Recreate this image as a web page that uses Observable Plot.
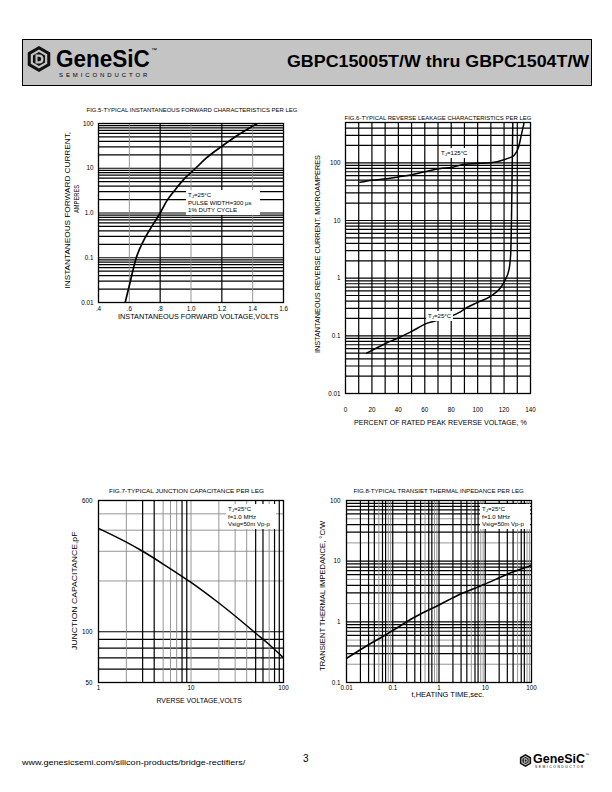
<!DOCTYPE html>
<html><head><meta charset="utf-8">
<script src="https://cdn.jsdelivr.net/npm/d3@7"></script>
<script src="https://cdn.jsdelivr.net/npm/@observablehq/plot@0.6"></script>
<style>
html,body{margin:0;padding:0;background:#fff;}
#page{position:relative;width:612px;height:792px;overflow:hidden;font-family:"Liberation Sans",Arial,Helvetica,sans-serif;color:#000;}
.abs{position:absolute;white-space:nowrap;line-height:1;}
.note{position:absolute;background:#fff;font-size:6.1px;line-height:7.6px;padding:1px 2px;white-space:nowrap;}
.note sub{font-size:4.4px;vertical-align:-1px;line-height:0;}
</style></head><body><div id="page"></div>
<script>
// ---------- DATA ----------
// Fig.5 forward characteristics
const c1Volts   = [0.573,0.6,0.645,0.7,0.75,0.8,0.84,0.9,0.95,1.03,1.1,1.2,1.3,1.43];
const c1Amps    = [0.01,0.024,0.1,0.27,0.53,1.0,1.8,3.4,5.5,10,17,31,54,100];
const c1XTicks  = [0.4,0.6,0.8,1.0,1.2,1.4,1.6];
const c1XLabels = [".4",".6",".8","1.0","1.2","1.4","1.6"];
const c1YTicks  = [0.01,0.1,1,10,100];
const c1YLabels = ["0.01","0.1","1.0","10","100"];
// Fig.6 reverse leakage
const c2Pct125  = [11,20,31,40,50,60,71,81,90,100,110,120,124,127.5,131,133,135];
const c2Cur125  = [46,50,53,57,62,70,79,84,94,97,100,113,122,134,187,300,480];
const c2Pct25   = [16,30,39,49,62,74.5,87,92,100,110,117,121,123.7,125,125.6,126.2,126.6];
const c2Cur25   = [0.05,0.073,0.09,0.116,0.166,0.2,0.26,0.31,0.38,0.49,0.67,0.95,1.4,2.6,10,100,500];
const c2XTicks  = [0,20,40,60,80,100,120,140];
const c2XLabels = ["0","20","40","60","80","100","120","140"];
const c2YTicks  = [0.01,0.1,1,10,100];
const c2YLabels = ["0.01","0.1","1","10","100"];
// Fig.7 junction capacitance
const c3Volts   = [1,2,3,5,10,20,30,50,70,100];
const c3Cap     = [410,340,300,252,196,148,124,98,84,70];
const c3XTicks  = [1,10,100];
const c3XLabels = ["1","10","100"];
const c3YTicks  = [50,100,600];
const c3YLabels = ["50","100","600"];
// Fig.8 transient thermal impedance
const c4Time    = [0.01,0.03,0.065,0.1,0.3,1,3,10,30,100];
const c4Imp     = [0.25,0.42,0.59,0.72,1.2,1.9,2.9,4.2,6.1,8.5];
const c4XTicks  = [0.01,0.1,1,10,100];
const c4XLabels = ["0.01","0.1","1","10","100"];
const c4YTicks  = [0.1,1,10,100];
const c4YLabels = ["0.1","1","10","100"];

// ---------- helpers ----------
const page = document.getElementById("page");
function logGrid(lo, hi, ks){ // grid values k*10^e within (lo,hi)
  const out=[];
  for(let e=-3;e<=3;e++) for(const k of ks){const v=+(k*Math.pow(10,e)).toPrecision(6); if(v>lo*1.0001 && v<hi*0.9999) out.push(v);}
  return out;
}
function fmt(ticks, labels){ return d => { const i = ticks.findIndex(t => Math.abs(t-d) < 1e-9*Math.max(1,Math.abs(t))); return i<0 ? "" : labels[i]; }; }
function txt(s, x, y, o={}){
  const el=document.createElement("div"); el.className="abs";
  el.style.fontSize=(o.size||7)+"px"; el.style.fontWeight=o.weight||"normal";
  if(o.html) el.innerHTML=s; else el.textContent=s;
  if(o.spacing) el.style.letterSpacing=o.spacing+"px";
  page.appendChild(el);
  const w=el.offsetWidth, h=el.offsetHeight;
  const sx=o.width? o.width/w : 1;
  const a=o.anchor||"middle";
  const ox = a==="middle"? w/2 : a==="end"? w : 0;
  el.style.left=(x-ox)+"px"; el.style.top=(y-h/2)+"px";
  el.style.transformOrigin=ox+"px "+(h/2)+"px";
  el.style.transform=(o.rotate?`rotate(${o.rotate}deg) `:"")+`scaleX(${sx})`;
  return el;
}
function note(lines, x, y, w){
  const el=document.createElement("div"); el.className="note";
  el.innerHTML=lines.join("<br>"); el.style.left=x+"px"; el.style.top=y+"px";
  if(w) el.style.width=w+"px";
  page.appendChild(el);
}
const ML=40, MR=10, MT=6, MB=24;
function chart(c){
  const p = Plot.plot({
    width: c.fw+ML+MR, height: c.fh+MT+MB,
    marginLeft: ML, marginRight: MR, marginTop: MT, marginBottom: MB,
    style:{fontFamily:'"Liberation Sans",Arial,sans-serif', fontSize:"6.3px", background:"transparent", color:"#000", overflow:"visible"},
    x: Object.assign({label:null, tickSize:0}, c.x),
    y: Object.assign({label:null, tickSize:0}, c.y),
    marks: c.marks
  });
  p.style.position="absolute";
  p.style.left=(c.fl-ML)+"px"; p.style.top=(c.ft-MT)+"px";
  p.style.maxWidth="none";
  page.appendChild(p);
}
const BLK={stroke:"#000", strokeWidth:1.2};
const GRY={stroke:"#8a8a8a", strokeWidth:0.9};
const FRAME=()=>Plot.frame({stroke:"#000", strokeWidth:1.3});

// ---------- header ----------
const box=document.createElement("div");
Object.assign(box.style,{position:"absolute",left:"22px",top:"39px",width:"568px",height:"45px",background:"#c4c4c4",border:"1.5px solid #000"});
page.appendChild(box);
function logo(x,y,s,fill){
  const hex=(cx,cy,r)=>d3.range(6).map(i=>{const a=Math.PI/180*(60*i-90);return (cx+r*Math.cos(a)).toFixed(2)+","+(cy+r*Math.sin(a)).toFixed(2);}).join(" ");
  const d=document.createElement("div"); d.style.position="absolute"; d.style.left=x+"px"; d.style.top=y+"px";
  d.innerHTML=`<svg width="${26*s}" height="${34*s}" viewBox="0 0 26 34"><polygon points="${hex(13,17,13)}" fill="#111"/><polygon points="${hex(13,17,9.5)}" fill="${fill}"/><polygon points="${hex(13,17,7)}" fill="#111"/><path d="M9.5 12.5 L13 12.5 Q17.5 12.5 17.5 17 Q17.5 21.5 13 21.5 L9.5 21.5 Z" fill="${fill}"/><path d="M11.5 14.8 L13 14.8 Q15.2 14.8 15.2 17 Q15.2 19.2 13 19.2 L11.5 19.2 Z" fill="#111"/></svg>`;
  page.appendChild(d);
}
logo(26,42,1,"#c4c4c4");
txt("GeneSiC", 56, 59, {size:23, weight:"bold", anchor:"start", width:94});
txt("™", 151, 50, {size:6, anchor:"start"});
txt("SEMICONDUCTOR", 59, 75, {size:6.2, anchor:"start", width:91, spacing:3});
txt("GBPC15005T/W thru GBPC1504T/W", 589, 62, {size:16, weight:"bold", anchor:"end", width:302});

// ---------- Fig.5 ----------
chart({fl:98, ft:123, fw:185, fh:179,
  x:{type:"linear", domain:[0.4,1.6], ticks:c1XTicks, tickFormat:fmt(c1XTicks,c1XLabels), tickPadding:4},
  y:{type:"log", domain:[0.01,100], ticks:c1YTicks, tickFormat:fmt(c1YTicks,c1YLabels), tickPadding:5},
  marks:[
    Plot.ruleY(logGrid(0.01,100,[1,2,3,4,5,6,7,8,9]), {y:d=>d, ...BLK}),
    Plot.ruleX([0.6,1.0,1.4], {x:d=>d, ...GRY}),
    Plot.ruleX([0.8,1.2], {x:d=>d, ...BLK}),
    FRAME(),
    Plot.line(c1Volts.map((v,i)=>({v, a:c1Amps[i]})), {x:"v", y:"a", stroke:"#000", strokeWidth:1.7, curve:"monotone-x", clip:true})
  ]});
note(["T<sub>J</sub>=25°C","PULSE WIDTH=300 μs","1% DUTY CYCLE"], 186, 190, 70);
txt("FIG.5-TYPICAL INSTANTANEOUS FORWARD CHARACTERISTICS PER LEG", 192, 110, {size:6, width:211});
txt("INSTANTANEOUS FORWARD VOLTAGE,VOLTS", 198, 317, {size:8, width:161});
txt("INSTANTANEOUS FORWARD CURRENT,", 67.5, 210, {size:8, rotate:-90, width:157});
txt("AMPERES", 76.5, 199, {size:8, rotate:-90, width:28});

// ---------- Fig.6 ----------
chart({fl:345, ft:122, fw:185, fh:271,
  x:{type:"linear", domain:[0,140], ticks:c2XTicks, tickFormat:fmt(c2XTicks,c2XLabels), tickPadding:14},
  y:{type:"log", domain:[0.01,500], ticks:c2YTicks, tickFormat:fmt(c2YTicks,c2YLabels), tickPadding:5},
  marks:[
    Plot.ruleY(logGrid(0.01,500,[1,2,3,4,5,6,7,8,9]), {y:d=>d, ...BLK}),
    Plot.ruleX(d3.range(10,140,10), {x:d=>d, ...BLK}),
    FRAME(),
    Plot.line(c2Pct125.map((v,i)=>({v, a:c2Cur125[i]})), {x:"v", y:"a", stroke:"#000", strokeWidth:1.5, curve:"monotone-x", clip:true}),
    Plot.line(c2Pct25.map((v,i)=>({v, a:c2Cur25[i]})), {x:"v", y:"a", stroke:"#000", strokeWidth:1.5, curve:"monotone-x", clip:true})
  ]});
note(["T<sub>J</sub>=125°C"], 439, 148);
note(["T<sub>J</sub>=25°C"], 426, 311);
txt("FIG.6-TYPICAL REVERSE LEAKAGE CHARACTERISTICS PER LEG", 438, 117.5, {size:6, width:187});
txt("PERCENT OF RATED PEAK REVERSE VOLTAGE, %", 440, 423, {size:7.6, width:173});
txt("INSTANTANEOUS REVERSE CURRENT, MICROAMPERES", 317.5, 254, {size:7.6, rotate:-90, width:198});

// ---------- Fig.7 ----------
chart({fl:98, ft:500, fw:185, fh:182,
  x:{type:"log", domain:[1,100], ticks:c3XTicks, tickFormat:fmt(c3XTicks,c3XLabels), tickPadding:3},
  y:{type:"log", domain:[50,600], ticks:c3YTicks, tickFormat:fmt(c3YTicks,c3YLabels), tickPadding:6},
  marks:[
    Plot.ruleY([200,300,400,500], {y:d=>d, ...GRY}),
    Plot.ruleY([60,70,80,90,100], {y:d=>d, ...BLK}),
    Plot.ruleX([2,5,6,7,10,20,30,40,70], {x:d=>d, ...GRY}),
    Plot.ruleX([3,4,8,9,50,60,80,90], {x:d=>d, ...BLK}),
    FRAME(),
    Plot.line(c3Volts.map((v,i)=>({v, a:c3Cap[i]})), {x:"v", y:"a", stroke:"#000", strokeWidth:1.5, curve:"catmull-rom", clip:true})
  ]});
note(["T<sub>J</sub>=25°C","f=1.0 MHz","Vsig=50m Vp-p"], 226, 504, 46);
txt("FIG.7-TYPICAL JUNCTION CAPACITANCE PER LEG", 186, 491, {size:6, width:155});
txt("RVERSE VOLTAGE,VOLTS", 199, 701, {size:7.6, width:85});
txt("JUNCTION CAPACITANCE,pF", 75, 591, {size:7.6, rotate:-90, width:118});

// ---------- Fig.8 ----------
chart({fl:346, ft:500, fw:185, fh:182,
  x:{type:"log", domain:[0.01,100], ticks:c4XTicks, tickFormat:fmt(c4XTicks,c4XLabels), tickPadding:3},
  y:{type:"log", domain:[0.1,100], ticks:c4YTicks, tickFormat:fmt(c4YTicks,c4YLabels), tickPadding:6},
  marks:[
    Plot.ruleY(logGrid(0.1,100,[2,5]), {y:d=>d, ...GRY}),
    Plot.ruleY(logGrid(0.1,100,[1,3,4,6,7,8,9]), {y:d=>d, ...BLK}),
    Plot.ruleX(logGrid(0.01,100,[5,8,9]), {x:d=>d, ...GRY}),
    Plot.ruleX(logGrid(0.01,100,[1,2,3,4,6,7]), {x:d=>d, ...BLK}),
    FRAME(),
    Plot.line(c4Time.map((v,i)=>({v, a:c4Imp[i]})), {x:"v", y:"a", stroke:"#000", strokeWidth:1.6, curve:"monotone-x", clip:true})
  ]});
note(["T<sub>J</sub>=25°C","f=1.0 MHz","Vsig=50m Vp-p"], 480, 504, 46);
txt("FIG.8-TYPICAL TRANSIET THERMAL INPEDANCE PER LEG", 438, 491, {size:6, width:170});
txt("t,HEATING TIME,sec.", 448, 695, {size:7.6, width:73});
txt("TRANSIENT THERMAL IMPEDANCE, °C/W", 322.5, 596, {size:7.6, rotate:-90, width:150});

// ---------- footer ----------
txt("www.genesicsemi.com/silicon-products/bridge-rectifiers/", 22, 763, {size:7.6, anchor:"start", width:223});
txt("3", 306, 759, {size:10, anchor:"middle"});
logo(519,752,0.5,"#bbb");
txt("GeneSiC", 533, 759, {size:12, weight:"bold", anchor:"start", width:52});
txt("™", 585, 755, {size:4, anchor:"start"});
txt("SEMICONDUCTOR", 535, 767, {size:3.4, anchor:"start", width:50, spacing:1.5});
</script></body></html>
